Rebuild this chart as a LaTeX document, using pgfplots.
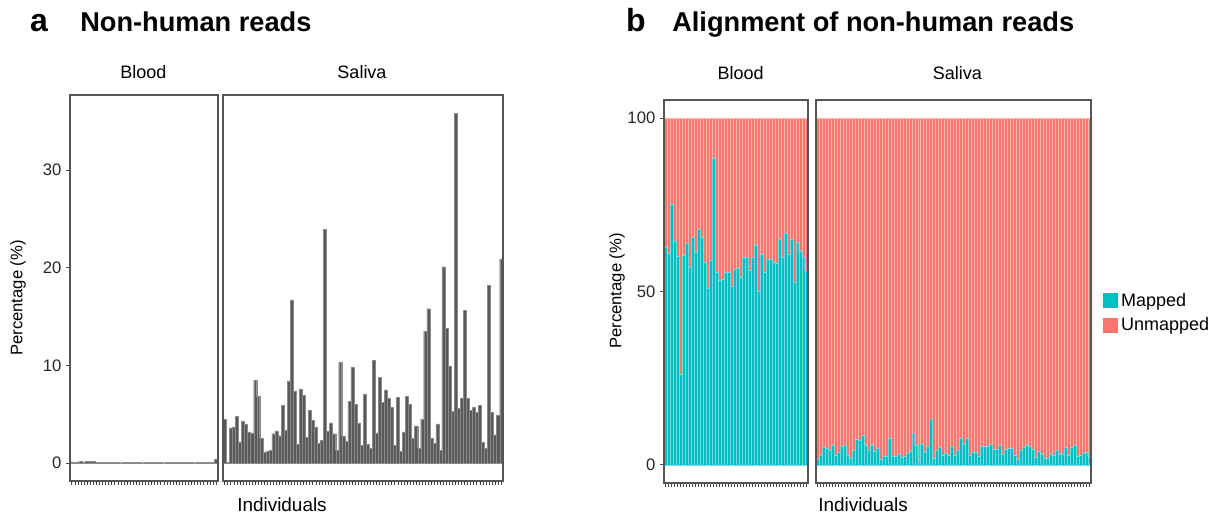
\documentclass[border=0pt]{standalone}
\usepackage{pgfplots}
\pgfplotsset{compat=1.18}
\usepackage{pgfplotstable}
\usepackage{fontspec}
\setmainfont{Liberation Sans}
\definecolor{barcol}{RGB}{89,89,89}
\definecolor{mapped}{RGB}{0,191,196}
\definecolor{unmapped}{RGB}{248,118,109}
\definecolor{bordercol}{RGB}{85,85,85}
\definecolor{tickcol}{RGB}{70,70,70}

\pgfplotstableread{
i v
1 0.12
2 0.10
3 0.12
4 0.14
5 0.12
6 0.16
7 0.18
8 0.15
9 0.05
10 0.04
11 0.05
12 0.06
13 0.08
14 0.05
15 0.04
16 0.05
17 0.03
18 0.04
19 0.05
20 0.04
21 0.06
22 0.05
23 0.04
24 0.03
25 0.05
26 0.04
27 0.05
28 0.06
29 0.04
30 0.05
31 0.03
32 0.04
33 0.05
34 0.04
35 0.05
36 0.06
37 0.04
38 0.05
39 0.04
40 0.05
41 0.03
42 0.04
43 0.05
44 0.04
45 0.05
46 0.04
47 0.05
48 0.35
}\bloodA

\pgfplotstableread{
i v
1 4.5
2 0.1
3 3.6
4 3.7
5 4.8
6 2.1
7 4.3
8 4.0
9 3.2
10 3.1
11 8.5
12 6.8
13 2.5
14 1.1
15 1.2
16 1.3
17 3.0
18 3.3
19 2.8
20 5.9
21 3.4
22 8.4
23 16.7
24 7.4
25 1.9
26 7.6
27 6.9
28 2.6
29 5.4
30 4.4
31 3.7
32 2.0
33 2.3
34 23.9
35 3.3
36 4.1
37 3.0
38 1.3
39 10.3
40 2.7
41 2.2
42 6.3
43 9.8
44 6.0
45 4.1
46 1.8
47 7.0
48 1.9
49 1.5
50 10.5
51 3.1
52 8.8
53 6.2
54 7.5
55 6.6
56 5.7
57 1.8
58 6.7
59 1.2
60 3.2
61 6.8
62 6.0
63 2.5
64 3.8
65 1.5
66 4.5
67 13.5
68 15.8
69 2.5
70 2.0
71 4.0
72 1.3
73 20.1
74 13.8
75 9.9
76 5.3
77 35.8
78 5.6
79 6.6
80 15.6
81 6.6
82 5.4
83 5.7
84 5.2
85 5.9
86 2.1
87 1.5
88 18.2
89 5.2
90 2.9
91 4.9
92 20.9
}\salivaA

\pgfplotstableread{
i m u
1 62.8 37.2
2 61.1 38.9
3 75.2 24.8
4 64.4 35.6
5 60.2 39.8
6 26.1 73.9
7 60.5 39.5
8 64.0 36.0
9 57.0 43.0
10 65.6 34.4
11 61.3 38.7
12 68.0 32.0
13 65.7 34.3
14 58.4 41.6
15 50.9 49.1
16 59.0 41.0
17 88.5 11.5
18 55.6 44.4
19 53.3 46.7
20 53.5 46.5
21 55.6 44.4
22 55.6 44.4
23 51.5 48.5
24 56.3 43.7
25 56.6 43.4
26 54.1 45.9
27 59.9 40.1
28 59.9 40.1
29 56.1 43.9
30 60.0 40.0
31 63.5 36.5
32 50.1 49.9
33 60.7 39.3
34 55.6 44.4
35 59.4 40.6
36 59.4 40.6
37 58.4 41.6
38 58.3 41.7
39 65.2 34.8
40 59.9 40.1
41 66.9 33.1
42 60.8 39.2
43 65.0 35.0
44 52.7 47.3
45 64.2 35.8
46 61.6 38.4
47 60.0 40.0
48 55.9 44.1
}\bloodB

\pgfplotstableread{
i m u
1 1.7 98.3
2 2.9 97.1
3 5.1 94.9
4 4.8 95.2
5 4.3 95.7
6 5.8 94.2
7 2.9 97.1
8 3.6 96.4
9 5.3 94.7
10 5.7 94.3
11 2.9 97.1
12 1.9 98.1
13 4.3 95.7
14 7.3 92.7
15 7.0 93.0
16 8.4 91.6
17 5.8 94.2
18 4.3 95.7
19 5.8 94.2
20 3.9 96.1
21 4.8 95.2
22 1.7 98.3
23 2.5 97.5
24 2.5 97.5
25 7.8 92.2
26 2.4 97.6
27 2.4 97.6
28 3.0 97.0
29 2.2 97.8
30 2.5 97.5
31 3.4 96.6
32 3.8 96.2
33 9.1 90.9
34 5.6 94.4
35 1.4 98.6
36 6.0 94.0
37 3.6 96.4
38 5.3 94.7
39 13.2 86.8
40 1.9 98.1
41 4.1 95.9
42 5.1 94.9
43 2.9 97.1
44 3.4 96.6
45 2.9 97.1
46 5.3 94.7
47 2.9 97.1
48 4.1 95.9
49 7.7 92.3
50 6.0 94.0
51 7.8 92.2
52 2.9 97.1
53 3.6 96.4
54 3.6 96.4
55 2.4 97.6
56 5.3 94.7
57 5.3 94.7
58 5.3 94.7
59 6.0 94.0
60 4.6 95.4
61 4.4 95.6
62 5.7 94.3
63 3.0 97.0
64 4.4 95.6
65 4.9 95.1
66 4.9 95.1
67 2.7 97.3
68 1.7 98.3
69 4.3 95.7
70 5.1 94.9
71 5.8 94.2
72 5.3 94.7
73 4.4 95.6
74 2.2 97.8
75 3.8 96.2
76 3.2 96.8
77 2.0 98.0
78 2.0 98.0
79 3.2 96.8
80 2.7 97.3
81 4.1 95.9
82 3.2 96.8
83 3.2 96.8
84 5.1 94.9
85 2.9 97.1
86 5.1 94.9
87 5.6 94.4
88 2.4 97.6
89 2.9 97.1
90 3.4 96.6
91 3.6 96.4
92 2.4 97.6
}\salivaB

\pgfplotsset{
  panel/.style={
    scale only axis, anchor=south west,
    axis on top,
    axis line style={draw=bordercol, line width=0.9pt},
    tick style={draw=tickcol, line width=0.6pt},
    tick align=outside, major tick length=3pt,
    xtick pos=bottom, ytick pos=left,
    xticklabels={},
    bar width=1,
    enlargelimits=false,
    ticklabel style={font=\fontsize{12.5}{15}\selectfont, text=black!85},
    /pgf/number format/assume math mode=true,
  },
}

\begin{document}
\begin{tikzpicture}
\path[use as bounding box] (0,0) rectangle (910.5pt,386.25pt);

% ---------- panel a ----------
\begin{axis}[panel, ybar, at={(52.5pt,25.5pt)}, width=111pt, height=289.5pt,
  xmin=0.4, xmax=48.6, ymin=-1.84, ymax=37.68,
  xtick={1,...,48}, ytick={0,10,20,30}]
\addplot[fill=barcol, draw=barcol!70!white, line width=0.25pt] table[x=i,y=v] {\bloodA};
\end{axis}
\begin{axis}[panel, ybar, at={(167.25pt,25.5pt)}, width=210pt, height=289.5pt,
  xmin=0.4, xmax=92.6, ymin=-1.84, ymax=37.68,
  xtick={1,...,92}, ytick=\empty]
\addplot[fill=barcol, draw=barcol!70!white, line width=0.25pt] table[x=i,y=v] {\salivaA};
\end{axis}

% ---------- panel b ----------
\begin{axis}[panel, ybar stacked, at={(498pt,24pt)}, width=108pt, height=287.25pt,
  xmin=0.4, xmax=48.6, ymin=-5.25, ymax=105.25,
  xtick={1,...,48}, ytick={0,50,100}]
\addplot[fill=mapped, draw=mapped!55!white, line width=0.3pt] table[x=i,y=m] {\bloodB};
\addplot[fill=unmapped, draw=unmapped!55!white, line width=0.3pt] table[x=i,y=u] {\bloodB};
\end{axis}
\begin{axis}[panel, ybar stacked, at={(612pt,24pt)}, width=206.25pt, height=287.25pt,
  xmin=0.4, xmax=92.6, ymin=-5.25, ymax=105.25,
  xtick={1,...,92}, ytick=\empty,
  legend image code/.code={\fill[#1,draw=none] (0pt,-5.6pt) rectangle (11.25pt,5.6pt);},
  legend style={at={(1.044,0.444)}, anchor=west, draw=none, fill=none,
    font=\fontsize{13.5}{16}\selectfont, inner sep=0pt, row sep=3pt,
    cells={anchor=west}}]
\addplot[fill=mapped, draw=mapped!55!white, line width=0.3pt] table[x=i,y=m] {\salivaB};
\addlegendentry{Mapped}
\addplot[fill=unmapped, draw=unmapped!55!white, line width=0.3pt] table[x=i,y=u] {\salivaB};
\addlegendentry{Unmapped}
\end{axis}

% ---------- texts ----------
\node[anchor=base, font=\fontsize{24}{28}\selectfont\bfseries] at (29.25pt,362.25pt) {a};
\node[anchor=base west, inner sep=0pt, font=\fontsize{20.4}{24}\selectfont\bfseries] at (60pt,362.25pt) {Non-human reads};
\node[anchor=base, font=\fontsize{24}{28}\selectfont\bfseries] at (477pt,362.25pt) {b};
\node[anchor=base west, inner sep=0pt, font=\fontsize{20.4}{24}\selectfont\bfseries] at (504pt,362.25pt) {Alignment of non-human reads};

\node[anchor=base, font=\fontsize{13.5}{16}\selectfont] at (107.5pt,327pt) {Blood};
\node[anchor=base, font=\fontsize{13.5}{16}\selectfont] at (271.5pt,327pt) {Saliva};
\node[anchor=base, font=\fontsize{13.5}{16}\selectfont] at (555.5pt,326.25pt) {Blood};
\node[anchor=base, font=\fontsize{13.5}{16}\selectfont] at (718pt,326.25pt) {Saliva};

\node[rotate=90, font=\fontsize{12.5}{15}\selectfont] at (13.5pt,162.75pt) {Percentage (\%)};
\node[rotate=90, font=\fontsize{12.5}{15}\selectfont] at (462.75pt,168pt) {Percentage (\%)};
\node[font=\fontsize{14.2}{17}\selectfont] at (211.5pt,8pt) {Individuals};
\node[font=\fontsize{14.2}{17}\selectfont] at (647.25pt,8pt) {Individuals};
\end{tikzpicture}
\end{document}
